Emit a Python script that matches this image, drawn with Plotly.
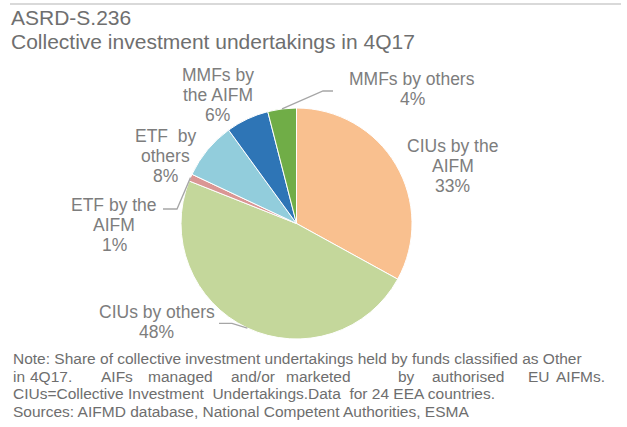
import math
import plotly.graph_objects as go

# Shares of collective investment undertakings, 4Q17 (%)
categories = ["CIUs by the AIFM", "CIUs by others", "ETF by the AIFM",
              "ETF by others", "MMFs by the AIFM", "MMFs by others"]
shares = [33, 48, 1, 8, 6, 4]
colors = ["#F9C08F", "#C4D79B", "#DA9694", "#92CDDC", "#2E75B6", "#70AD47"]
label_lines = [
    ["CIUs by the", "AIFM"],
    ["CIUs by others"],
    ["ETF by the", "AIFM"],
    ["ETF  by", "others"],
    ["MMFs by", "the AIFM"],
    ["MMFs by others"],
]

title_lines = ["ASRD-S.236", "Collective investment undertakings in 4Q17"]
note_line1 = "Note: Share of collective investment undertakings held by funds classified as Other"
note_line2_words = ["in", "4Q17.", "AIFs", "managed", "and/or", "marketed", "by",
                    "authorised", "EU", "AIFMs."]
note_line3 = "CIUs=Collective Investment  Undertakings.Data  for 24 EEA countries."
note_line4 = "Sources: AIFMD database, National Competent Authorities, ESMA"

W, H = 627, 427
FONT = "Liberation Sans, Arial, sans-serif"
LABEL_COLOR = "#7d7d7d"
NOTE_COLOR = "#6e6e6e"


def px(x):
    return x / W


def py(y):
    return 1 - y / H


# pie geometry in pixels
CX, CY, R = 296.5, 223.5, 115.5

fig = go.Figure(go.Pie(
    labels=categories,
    values=shares,
    sort=False,
    direction="clockwise",
    rotation=0,
    marker=dict(colors=colors, line=dict(color="white", width=1)),
    textinfo="none",
    hoverinfo="label+percent",
    showlegend=False,
    domain=dict(x=[px(CX - R), px(CX + R)], y=[py(CY + R), py(CY - R)]),
))

annotations = []
shapes = []

# label placement: block centre x, first line y
label_pos = [
    (452.7, 145.5),
    (156.5, 312.0),
    (114.0, 204.5),
    (166.0, 135.5),
    (217.7, 75.0),
    (412.0, 79.0),
]
LINE_STEP = 20.2
total = sum(shares)
for lines, share, (lx, ly) in zip(label_lines, shares, label_pos):
    pct = f"{round(100 * share / total)}%"
    for i, t in enumerate(lines + [pct]):
        annotations.append(dict(
            x=px(lx), y=py(ly + i * LINE_STEP), xref="paper", yref="paper",
            text=t, showarrow=False, xanchor="center", yanchor="middle",
            font=dict(family=FONT, size=17.5, color=LABEL_COLOR),
        ))

# leader lines from slice edge (mid-angle) to the label
mid = {}
cum = 0
for name, v in zip(categories, shares):
    frac = (cum + v / 2) / total
    th = 2 * math.pi * frac
    mid[name] = (CX + R * math.sin(th), CY - R * math.cos(th))
    cum += v

leaders = {
    "MMFs by others": [(323, 91), (333, 91)],
    "ETF by the AIFM": [(177, 209), (163, 209)],
    "CIUs by others": [(232, 323.3), (219, 323.3)],
}
for name, pts in leaders.items():
    ex, ey = mid[name]
    path = f"M {px(ex)},{py(ey)}" + "".join(f" L {px(a)},{py(b)}" for a, b in pts)
    shapes.append(dict(type="path", path=path, xref="paper", yref="paper",
                       line=dict(color="#a6a6a6", width=1.3)))

# header rule and titles
shapes.append(dict(type="line", xref="paper", yref="paper",
                   x0=px(10), x1=px(621), y0=py(4), y1=py(4),
                   line=dict(color="#d9d9d9", width=2)))
for t, y in zip(title_lines, [17.5, 41.5]):
    annotations.append(dict(
        x=px(9), y=py(y), xref="paper", yref="paper", text=t, showarrow=False,
        xanchor="left", yanchor="middle",
        font=dict(family=FONT, size=21, color="#6f6f6f"),
    ))

# footnote
NOTE_SIZE = 15.5
for t, y in [(note_line1, 358), (note_line3, 393.5), (note_line4, 411)]:
    annotations.append(dict(
        x=px(11), y=py(y), xref="paper", yref="paper", text=t, showarrow=False,
        xanchor="left", yanchor="middle",
        font=dict(family=FONT, size=NOTE_SIZE, color=NOTE_COLOR),
    ))
word_x = [12, 29, 100, 147, 230, 285, 397, 431, 527, 555]
for w, x in zip(note_line2_words, word_x):
    annotations.append(dict(
        x=px(x), y=py(376), xref="paper", yref="paper", text=w, showarrow=False,
        xanchor="left", yanchor="middle", xshift=-1,
        font=dict(family=FONT, size=NOTE_SIZE, color=NOTE_COLOR),
    ))

fig.update_layout(
    width=W, height=H,
    margin=dict(l=0, r=0, t=0, b=0),
    paper_bgcolor="white", plot_bgcolor="white",
    showlegend=False,
    annotations=annotations,
    shapes=shapes,
)

fig.write_html("out.html")
